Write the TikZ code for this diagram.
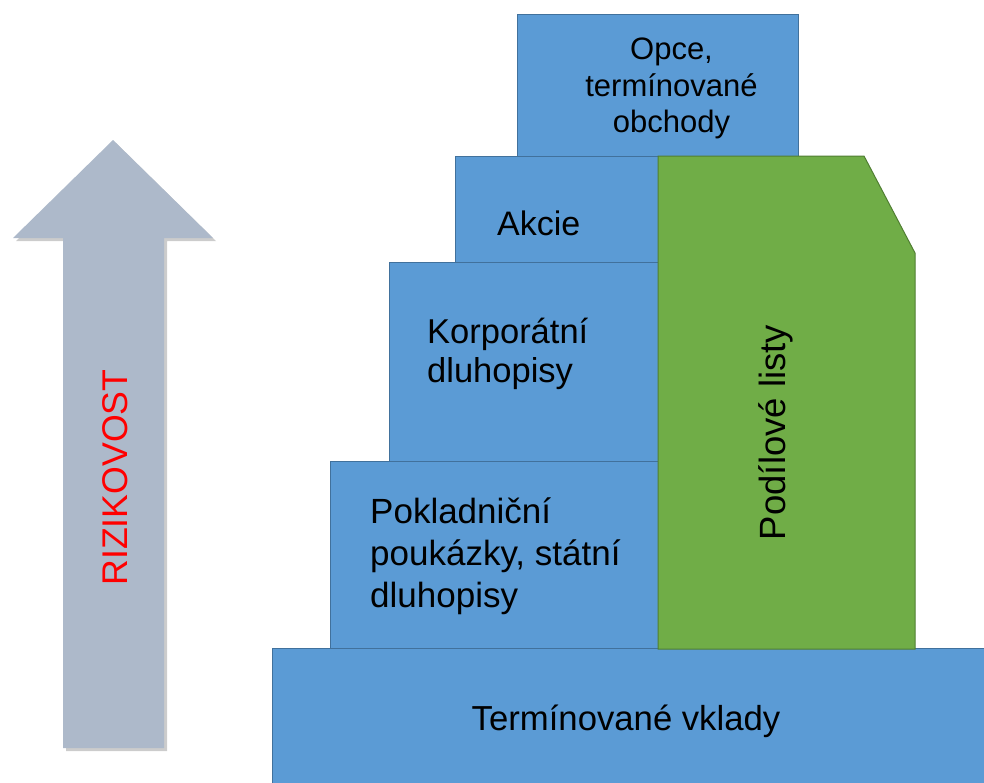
\documentclass[tikz,border=0pt]{standalone}
\usepackage{fontspec}
\setmainfont{Liberation Sans}
\definecolor{boxblue}{HTML}{5B9BD5}
\definecolor{boxblueline}{HTML}{41719C}
\definecolor{boxgreen}{HTML}{70AD47}
\definecolor{boxgreenline}{HTML}{507E32}
\definecolor{arrowgray}{HTML}{ADB9CA}
\begin{document}
\begin{tikzpicture}[x=1pt,y=-1pt,
  bluebox/.style={fill=boxblue, draw=boxblueline, line width=1pt},
  greenbox/.style={fill=boxgreen, draw=boxgreenline, line width=1pt},
  lbl/.style={inner sep=0pt, font=\fontsize{34}{40}\selectfont, text=black},
]
\useasboundingbox (0,0) rectangle (984,782);
\clip (0,0) rectangle (984,782);
% arrow with shadow
\fill[black, opacity=0.2] (66,751) -- (66,241) -- (16,241) -- (116,143) -- (216,241) -- (167,241) -- (167,751) -- cycle;
\fill[arrowgray] (63,748) -- (63,238) -- (13,238) -- (113,140) -- (213,238) -- (164,238) -- (164,748) -- cycle;
\node[lbl, rotate=90, anchor=base, text=red, font=\fontsize{35.7}{40}\selectfont] (riz) at (127,477.5) {RIZIKOVOST};
% boxes
\draw[bluebox] (272,648) rectangle (995,795);
\draw[bluebox] (330,461) rectangle (658,648);
\draw[bluebox] (389,262) rectangle (658,461);
\draw[bluebox] (455,156) rectangle (658,262);
\draw[bluebox] (517,14) rectangle (798,156);
\draw[greenbox] (658,156) -- (864,156) -- (915,253) -- (915,649) -- (658,649) -- cycle;
% labels
\node[lbl, align=center, anchor=north, font=\fontsize{31}{36.5}\selectfont] (opce) at (671.5,38) {Opce,\\termínované\\obchody};
\node[lbl, anchor=base west] (akcie) at (497,235) {Akcie};
\node[lbl, align=left, anchor=north west, font=\fontsize{34.5}{39}\selectfont] (korp) at (427,318) {Korporátní\\dluhopisy};
\node[lbl, align=left, anchor=north west, font=\fontsize{35}{42}\selectfont] (pokl) at (370,497.5) {Pokladniční\\poukázky, státní\\dluhopisy};
\node[lbl, anchor=base, font=\fontsize{34.7}{40}\selectfont] (term) at (626,730) {Termínované vklady};
\node[lbl, rotate=90, anchor=base, font=\fontsize{36.5}{40}\selectfont] (podil) at (785,432.5) {Podílové listy};
\end{tikzpicture}
\end{document}
